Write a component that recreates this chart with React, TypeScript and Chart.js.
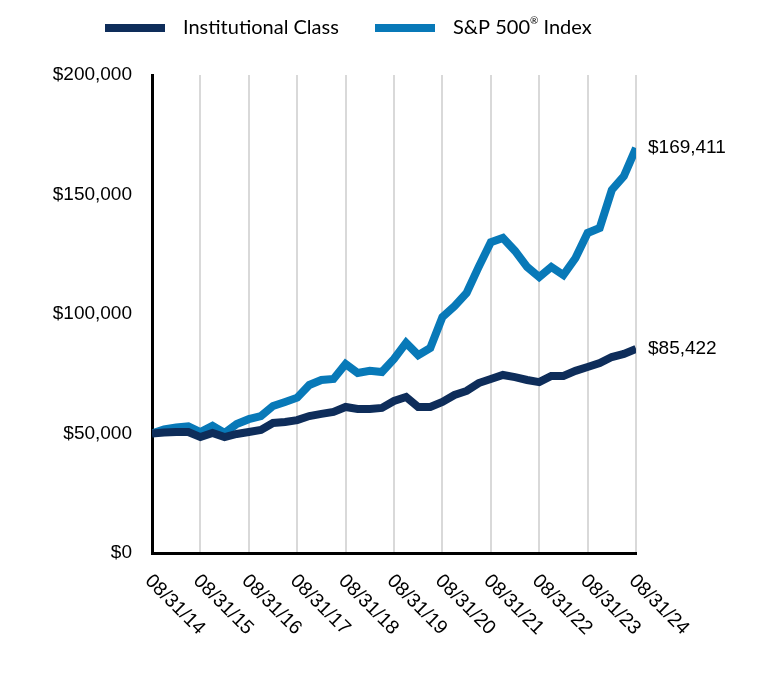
import React, { useEffect, useRef } from "react";
import { Chart, registerables } from "chart.js";

Chart.register(...registerables);

const yearLabels = [
  "08/31/14", "08/31/15", "08/31/16", "08/31/17", "08/31/18", "08/31/19",
  "08/31/20", "08/31/21", "08/31/22", "08/31/23", "08/31/24",
];

// quarterly values (41 points, 08/31/14 .. 08/31/24)
const institutional = [
  50000, 50400, 50600, 50600, 48500, 50200, 48500, 49800, 50600, 51500,
  54400, 54800, 55600, 57300, 58200, 59000, 61100, 60300, 60300, 60700,
  63600, 65300, 61100, 61100, 63200, 66100, 67800, 71100, 72800, 74500,
  73600, 72400, 71500, 74100, 74100, 76200, 77800, 79500, 82000, 83300,
  85422,
];

const sp500 = [
  50000, 51700, 52500, 53000, 50600, 53200, 50200, 54000, 56000, 57300,
  61500, 63200, 65000, 70300, 72400, 72800, 79100, 75300, 76200, 75700,
  81200, 87900, 82800, 85800, 98700, 103300, 108800, 119700, 130000, 131800,
  126400, 119700, 115500, 119700, 116300, 123400, 133900, 136000, 151900, 157700,
  169411,
];

const seriesNames = ["Institutional Class", "S&P 500® Index"];
const seriesColors = ["#0e2d5a", "#0879b8"];
const endLabels = ["$85,422", "$169,411"];
const yTicks = [0, 50000, 100000, 150000, 200000];

const FONT = "Lato, 'Open Sans', sans-serif";
const NUMFONT = "'Liberation Sans', Arial, sans-serif";

const overlayPlugin = {
  id: "overlay",
  afterDraw(chart: any) {
    const ctx = chart.ctx as CanvasRenderingContext2D;
    const xs = chart.scales.x;
    ctx.save();
    ctx.fillStyle = "#000";

    // rotated x labels
    ctx.font = `19.5px ${NUMFONT}`;
    yearLabels.forEach((lab, i) => {
      const px = xs.getPixelForValue(i * 4);
      ctx.save();
      ctx.translate(px - 4, 578);
      ctx.rotate(Math.PI / 4);
      ctx.textAlign = "left";
      ctx.textBaseline = "middle";
      ctx.fillText(lab, 0, 0);
      ctx.restore();
    });

    // end labels
    ctx.font = `19px ${NUMFONT}`;
    chart.data.datasets.forEach((_ds: any, di: number) => {
      const meta = chart.getDatasetMeta(di);
      const last = meta.data[meta.data.length - 1];
      ctx.textAlign = "left";
      ctx.textBaseline = "middle";
      ctx.fillText(endLabels[di], last.x + 12, last.y);
    });

    // legend
    const starts = [105, 375];
    seriesNames.forEach((name, i) => {
      const x0 = starts[i];
      ctx.fillStyle = seriesColors[i];
      ctx.fillRect(x0, 24, 60, 8);
      ctx.fillStyle = "#000";
      ctx.textAlign = "left";
      ctx.textBaseline = "middle";
      ctx.font = `20px ${FONT}`;
      const parts = name.split("®");
      let tx = x0 + 78;
      ctx.fillText(parts[0], tx, 28);
      if (parts.length > 1) {
        tx += ctx.measureText(parts[0]).width;
        ctx.font = `10px ${FONT}`;
        ctx.fillText("®", tx, 21);
        tx += ctx.measureText("®").width;
        ctx.font = `20px ${FONT}`;
        ctx.fillText(parts[1], tx, 28);
      }
    });
    ctx.restore();
  },
};

export default function App() {
  const ref = useRef<HTMLCanvasElement | null>(null);

  useEffect(() => {
    if (!ref.current) return;
    const mk = (arr: number[]) => arr.map((v, i) => ({ x: i, y: v }));
    const chart = new Chart(ref.current, {
      type: "line",
      data: {
        datasets: [
          {
            label: seriesNames[0],
            data: mk(institutional),
            borderColor: seriesColors[0],
            backgroundColor: seriesColors[0],
            borderWidth: 8,
            pointRadius: 0,
            tension: 0,
            borderCapStyle: "butt",
            borderJoinStyle: "miter",
          },
          {
            label: seriesNames[1],
            data: mk(sp500),
            borderColor: seriesColors[1],
            backgroundColor: seriesColors[1],
            borderWidth: 8,
            pointRadius: 0,
            tension: 0,
            borderCapStyle: "butt",
            borderJoinStyle: "miter",
          },
        ],
      },
      options: {
        animation: false,
        responsive: true,
        maintainAspectRatio: false,
        layout: { padding: { left: 0, right: 132, top: 75, bottom: 0 } },
        plugins: {
          legend: { display: false },
          tooltip: { enabled: false },
        },
        scales: {
          x: {
            type: "linear",
            min: 0,
            max: 40,
            ticks: { stepSize: 4, display: false },
            grid: { color: "#d9d9d9", lineWidth: 2, drawTicks: false },
            border: { display: true, color: "#000", width: 3 },
            afterFit: (s: any) => {
              s.height = 131;
            },
          },
          y: {
            min: 0,
            max: 200000,
            afterBuildTicks: (s: any) => {
              s.ticks = yTicks.map((v) => ({ value: v }));
            },
            ticks: {
              padding: 20,
              color: "#000",
              font: { family: NUMFONT, size: 19 },
              callback: (v: any) => "$" + Number(v).toLocaleString("en-US"),
            },
            grid: { display: false, drawTicks: false },
            border: { display: true, color: "#000", width: 3 },
            afterFit: (s: any) => {
              s.width = 152;
            },
          },
        },
      },
      plugins: [overlayPlugin],
    });
    return () => chart.destroy();
  }, []);

  return (
    <div style={{ position: "fixed", left: 0, top: 0, width: 768, height: 684, background: "#fff" }}>
      <canvas ref={ref} />
    </div>
  );
}
